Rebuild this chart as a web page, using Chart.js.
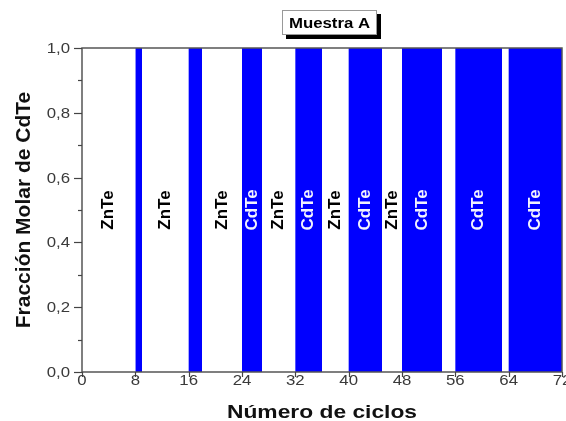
<!DOCTYPE html>
<html>
<head>
<meta charset="utf-8">
<script src="https://cdn.jsdelivr.net/npm/chart.js@4"></script>
<style>
  body { margin: 0; background: #fff; }
  #wrap { width: 566px; height: 421px; }
</style>
</head>
<body>
<div id="wrap"><canvas id="myChart" width="566" height="421"></canvas></div>
<script>
// Capas de CdTe: ciclo inicial, ciclo final y fracción molar
const cdteStart = [8, 16, 24, 32, 40, 48, 56, 64];
const cdteEnd = [9, 18, 27, 36, 45, 54, 63, 72];
const cdteFraction = [1, 1, 1, 1, 1, 1, 1, 1];

const xTicks = [0, 8, 16, 24, 32, 40, 48, 56, 64, 72];
const yTicks = [0, 0.2, 0.4, 0.6, 0.8, 1.0];

const sampleName = 'Muestra A';
const xTitle = 'Número de ciclos';
const yTitle = 'Fracción Molar de CdTe';

const FONT = '"Liberation Sans", Arial, sans-serif';
const STRETCH = 1.2;

// Perfil escalonado: 0 en ZnTe, fracción en CdTe
const profile = [];
cdteStart.forEach((s, i) => {
    profile.push({ x: s, y: 0 }, { x: s, y: cdteFraction[i] },
                 { x: cdteEnd[i], y: cdteFraction[i] }, { x: cdteEnd[i], y: 0 });
});

// Etiquetas de cada capa (solo las capas de 3 ciclos o más)
const layers = [];
let prev = 0;
cdteStart.forEach((s, i) => {
    if (s - prev >= 3) layers.push({ name: 'ZnTe', mid: (prev + s) / 2 });
    if (cdteEnd[i] - s >= 3) layers.push({ name: 'CdTe', mid: (s + cdteEnd[i]) / 2 });
    prev = cdteEnd[i];
});

// texto horizontal algo ensanchado; el vertical va sin ensanchar
function text(ctx, str, x, y, font, color, align, baseline, angle) {
    ctx.save();
    ctx.translate(x, y);
    if (angle) ctx.rotate(angle);
    else ctx.scale(STRETCH, 1);
    ctx.font = font;
    ctx.fillStyle = color;
    ctx.textAlign = align;
    ctx.textBaseline = baseline;
    ctx.fillText(str, 0, 0);
    ctx.restore();
}

const decorations = {
    id: 'decorations',
    afterDatasetsDraw(chart) {
        const { ctx, chartArea: a, scales: { x, y } } = chart;

        // nombres de las capas
        layers.forEach(l => {
            const color = l.name === 'CdTe' ? '#f2f2ff' : '#000';
            text(ctx, l.name, x.getPixelForValue(l.mid), y.getPixelForValue(0.5),
                 'bold 17px ' + FONT, color, 'center', 'middle', -Math.PI / 2);
        });

        // marco
        ctx.save();
        ctx.strokeStyle = '#555';
        ctx.lineWidth = 1.5;
        ctx.strokeRect(a.left, a.top, a.right - a.left, a.bottom - a.top);

        // marcas del eje y (mayores y menores)
        ctx.strokeStyle = '#444';
        ctx.lineWidth = 1.2;
        for (let k = 0; k <= 10; k++) {
            const py = Math.round(y.getPixelForValue(k / 10)) + 0.5;
            const len = k % 2 === 0 ? 8 : 4;
            ctx.beginPath();
            ctx.moveTo(a.left - len, py);
            ctx.lineTo(a.left, py);
            ctx.stroke();
        }
        // marcas del eje x
        xTicks.forEach(v => {
            const px = Math.round(x.getPixelForValue(v)) + 0.5;
            ctx.beginPath();
            ctx.moveTo(px, a.bottom);
            ctx.lineTo(px, a.bottom + 5);
            ctx.stroke();
        });
        ctx.restore();

        // etiquetas de los ejes
        yTicks.forEach(v => {
            text(ctx, v.toFixed(1).replace('.', ','), a.left - 12, y.getPixelForValue(v) + 5,
                 '14px ' + FONT, '#3a3a3a', 'right', 'alphabetic');
        });
        xTicks.forEach(v => {
            text(ctx, String(v), x.getPixelForValue(v), a.bottom + 13,
                 '14px ' + FONT, '#3a3a3a', 'center', 'alphabetic');
        });
    },
    afterDraw(chart) {
        const { ctx, chartArea: a } = chart;
        const cx = (a.left + a.right) / 2;
        const cy = (a.top + a.bottom) / 2;

        text(ctx, xTitle, cx, 418, 'bold 19px ' + FONT, '#111', 'center', 'alphabetic');
        text(ctx, yTitle, 24, cy, 'bold 21px ' + FONT, '#111', 'center', 'middle', -Math.PI / 2);

        // recuadro con sombra del nombre de la muestra
        ctx.save();
        ctx.fillStyle = '#000';
        ctx.fillRect(286, 14, 95, 25);
        ctx.fillStyle = '#fff';
        ctx.fillRect(282, 10, 95, 25);
        ctx.strokeStyle = '#999';
        ctx.lineWidth = 1;
        ctx.strokeRect(282.5, 10.5, 94, 24);
        ctx.restore();
        text(ctx, sampleName, 329.5, 28, 'bold 14px ' + FONT, '#000', 'center', 'alphabetic');
    }
};

new Chart(document.getElementById('myChart'), {
    type: 'line',
    data: {
        datasets: [{
            data: profile,
            fill: 'origin',
            backgroundColor: '#0000ff',
            borderWidth: 0,
            pointRadius: 0,
            tension: 0
        }]
    },
    options: {
        responsive: false,
        animation: false,
        layout: { padding: { top: 48, right: 4, left: 0, bottom: 0 } },
        plugins: { legend: { display: false }, tooltip: { enabled: false } },
        scales: {
            x: {
                type: 'linear', min: 0, max: 72,
                ticks: { stepSize: 8, display: false },
                grid: { display: false, drawTicks: false },
                border: { display: false },
                afterFit: s => { s.height = 49; }
            },
            y: {
                min: 0, max: 1,
                ticks: { stepSize: 0.2, display: false },
                grid: { display: false, drawTicks: false },
                border: { display: false },
                afterFit: s => { s.width = 82; }
            }
        }
    },
    plugins: [decorations]
});
</script>
</body>
</html>
